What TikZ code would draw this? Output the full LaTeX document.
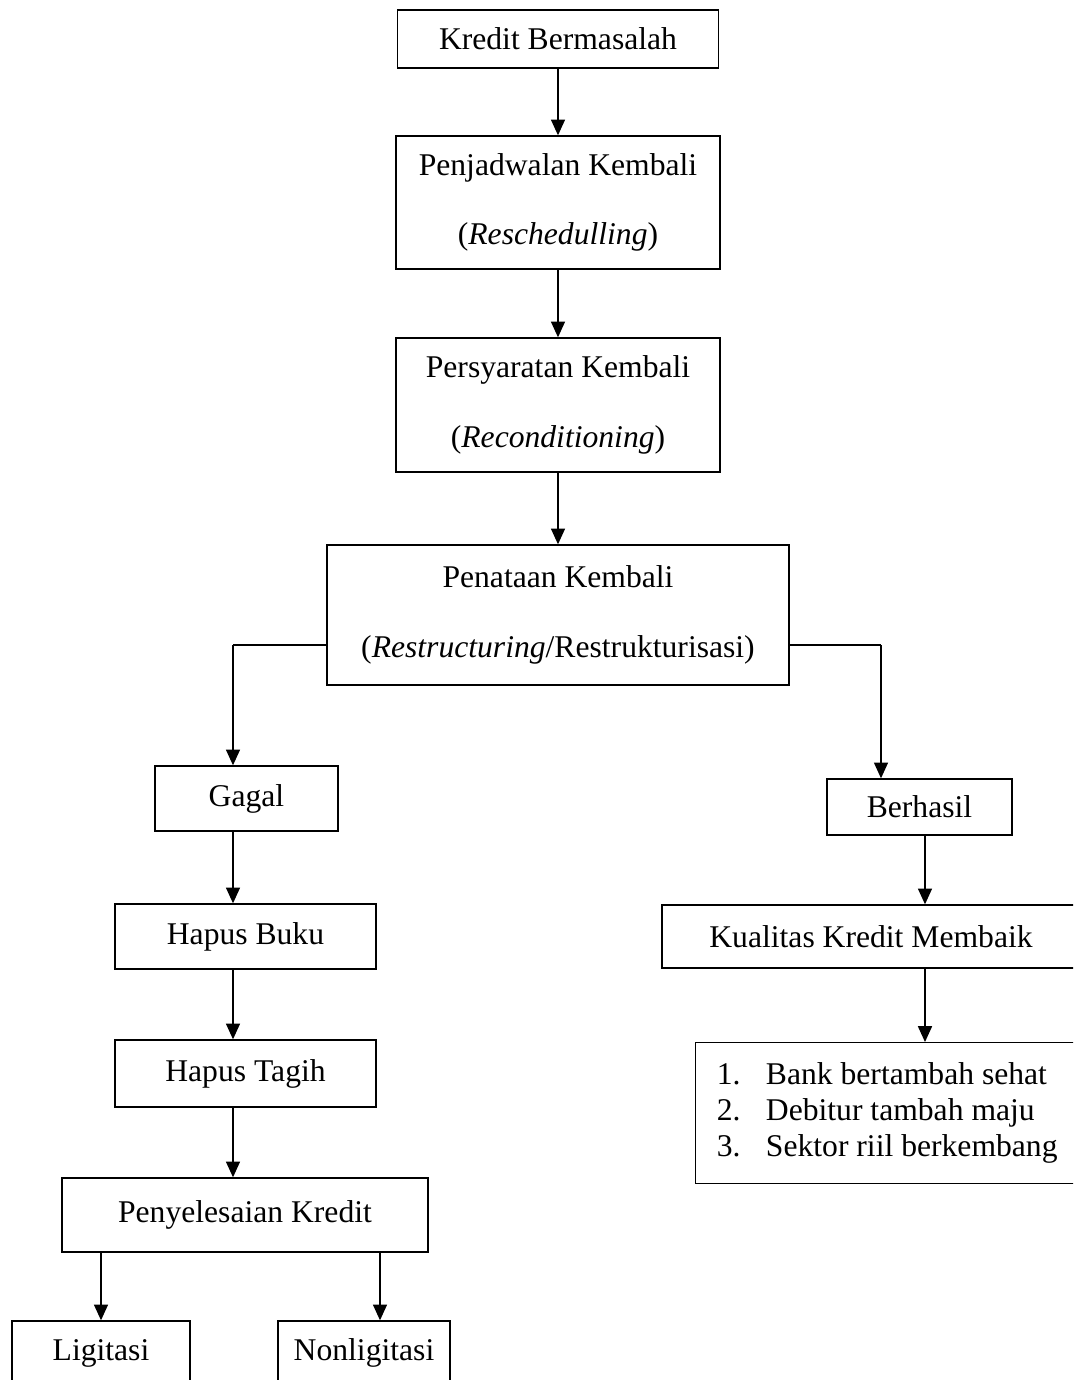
\documentclass[tikz,border=0pt]{standalone}
\usepackage{fontspec}
\setmainfont{Liberation Serif}
\usetikzlibrary{arrows.meta}
\begin{document}
\begin{tikzpicture}[x=0.02cm,y=-0.02cm,
		box/.style={draw,line width=0.8pt,inner sep=0pt,align=center,font=\fontsize{18}{39.7}\selectfont},
		arr/.style={line width=0.8pt,-{Triangle[length=9pt,width=8pt]}},
		line/.style={line width=0.8pt}]
			\useasboundingbox (0,0) rectangle (1073,1380);
			\clip (0,0) rectangle (1073,1380);
			\node [box,minimum width=6.42cm,minimum height=1.16cm] (kredit) at (558,39) {Kredit Bermasalah};
			\node [box,minimum width=6.48cm,minimum height=2.66cm] (jadwal) at (558,202.5) {Penjadwalan Kembali\\(\textit{Reschedulling})};
			\node [box,minimum width=6.48cm,minimum height=2.68cm] (syarat) at (558,405) {Persyaratan Kembali\\(\textit{Reconditioning})};
			\node [box,minimum width=9.24cm,minimum height=2.8cm] (tata) at (558,615) {Penataan Kembali\\(\textit{Restructuring}/Restrukturisasi)};
			\node [box,minimum width=3.66cm,minimum height=1.3cm] (gagal) at (246.5,798.5) {Gagal};
			\node [box,minimum width=3.7cm,minimum height=1.12cm] (hasil) at (919.5,807) {Berhasil};
			\node [box,minimum width=5.22cm,minimum height=1.3cm] (buku) at (245.5,936.5) {Hapus Buku};
			\node [box,minimum width=8.36cm,minimum height=1.26cm] (kualitas) at (871,936.5) {Kualitas Kredit Membaik};
			\node [box,minimum width=5.22cm,minimum height=1.34cm] (tagih) at (245.5,1073.5) {Hapus Tagih};
			\node [box,anchor=north west,align=flush left,text width=7.16cm,inner xsep=12pt,minimum height=2.82cm,font=\fontsize{18}{20.4}\selectfont] (hasilnya) at (695,1042) {\makebox[28pt][l]{1.}Bank bertambah sehat\\\makebox[28pt][l]{2.}Debitur tambah maju\\\makebox[28pt][l]{3.}Sektor riil berkembang};
			\node [box,minimum width=7.32cm,minimum height=1.48cm] (selesai) at (245,1215) {Penyelesaian Kredit};
			\node [box,minimum width=3.56cm,minimum height=1.28cm] (ligitasi) at (101,1353) {Ligitasi};
			\node [box,minimum width=3.44cm,minimum height=1.28cm] (nonligitasi) at (364,1353) {Nonligitasi};
			\coordinate (kiri) at (233,645);
			\coordinate (kanan) at (881,645);
			\coordinate (tengah) at (925,0);
			\coordinate (non) at (380,0);
			\draw [arr] (kredit) -- (jadwal);
			\draw [arr] (jadwal) -- (syarat);
			\draw [arr] (syarat) -- (tata);
			\draw [line] (tata.west |- kiri) -- (kiri);
			\draw [arr] (kiri) -- (kiri |- gagal.north);
			\draw [line] (tata.east |- kanan) -- (kanan);
			\draw [arr] (kanan) -- (kanan |- hasil.north);
			\draw [arr] (gagal.south -| kiri) -- (buku.north -| kiri);
			\draw [arr] (buku.south -| kiri) -- (tagih.north -| kiri);
			\draw [arr] (tagih.south -| kiri) -- (selesai.north -| kiri);
			\draw [arr] (hasil.south -| tengah) -- (kualitas.north -| tengah);
			\draw [arr] (kualitas.south -| tengah) -- (hasilnya.north -| tengah);
			\draw [arr] (selesai.south -| ligitasi) -- (ligitasi.north);
			\draw [arr] (selesai.south -| non) -- (nonligitasi.north -| non);
		\end{tikzpicture}
\end{document}
